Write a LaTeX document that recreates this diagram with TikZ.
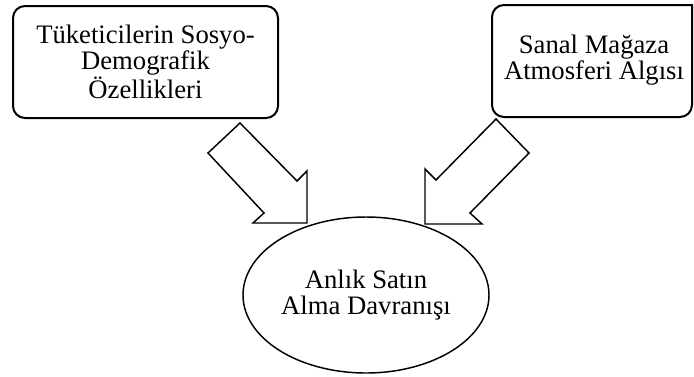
\documentclass[tikz,border=0pt]{standalone}
\usepackage{fontspec}
\setmainfont{Liberation Serif}
\usetikzlibrary{shapes.geometric}

\tikzset{
  every node/.style={font=\fontsize{20}{19.5}\selectfont, align=center, inner sep=0pt},
  factorbox/.style={draw, line width=1.5pt, rounded corners=9pt,
    minimum width=198.75pt, minimum height=84pt},
  outcome/.style={draw, ellipse, line width=1.1pt,
    minimum width=184.5pt, minimum height=117pt},
  blockarrow/.style={draw, line width=1.1pt, line join=miter, fill=white},
}

\begin{document}
\begin{tikzpicture}[x=0.75pt, y=-0.75pt]
  \useasboundingbox (0,0) rectangle (694,376);

  % socio-demographic factors
  \node[factorbox] (demo) at (145.5,62) {Tüketicilerin Sosyo-\\Demografik\\Özellikleri};

  % perceived virtual store atmosphere (box runs to the right edge)
  \draw[line width=1.5pt] (692,5) [rounded corners=9pt] -- (492,5) -- (492,117)
    -- (692,117) [sharp corners] -- cycle;
  \node (atmo) at (594,60) {Sanal Mağaza\\Atmosferi Algısı};

  % impulse buying behaviour
  \node[outcome] (impulse) at (366,295) {Anlık Satın\\Alma Davranışı};

  % block arrows pointing into the ellipse
  \draw[blockarrow] (240,123) -- (297,181) -- (307,171) -- (307,223)
    -- (253,223) -- (264,213) -- (208,153) -- cycle;
  \draw[blockarrow] (496,119) -- (529,153) -- (470,213) -- (482,224)
    -- (425,224) -- (425,169) -- (436,180) -- cycle;
\end{tikzpicture}
\end{document}
